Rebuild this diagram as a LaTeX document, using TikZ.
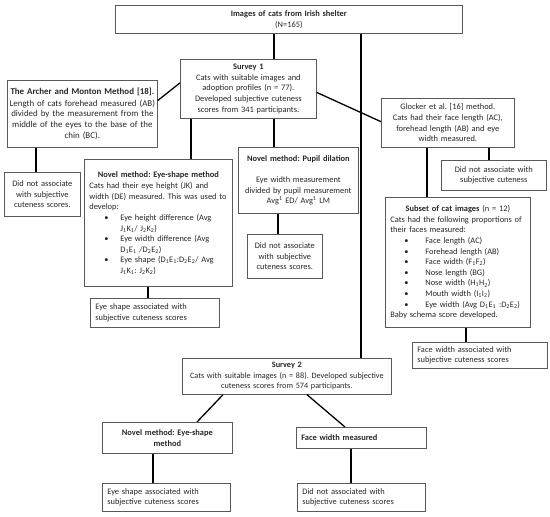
\documentclass[tikz,border=0pt]{standalone}
\usepackage{fontspec}
\setmainfont{Carlito}
\usepackage{tikz}
\frenchspacing

\newcommand{\sbs}[1]{\textsubscript{#1}}
\newcommand{\blt}[2]{\hspace*{#1}\makebox[#2][l]{\textbullet}}

\tikzset{
  box/.style={draw=black!65, line width=0.7pt, anchor=north west, inner xsep=2pt, inner ysep=2pt,
    align=center, font=\fontsize{8.4}{10.6}\selectfont, text=black!85},
  lbox/.style={box, inner xsep=5pt, align=left},
  link/.style={line width=1.3pt},
}

\begin{document}
\begin{tikzpicture}[x=1pt,y=-1pt]
\useasboundingbox (0,0) rectangle (550,517);

% top and survey 1
\node[box, minimum width=347pt, minimum height=28pt, text width=343pt] (top) at (115,5)
  {\textbf{Images of cats from Irish shelter}\\(N=165)};
\node[box, minimum width=136pt, minimum height=59pt, text width=132pt] (surv1) at (180,59)
  {\textbf{Survey 1}\\Cats with suitable images and\\adoption profiles (n = 77).\\Developed subjective cuteness\\scores from 341 participants.};

% archer and monton
\node[box, minimum width=150pt, minimum height=67pt, text width=146pt, font=\fontsize{8.9}{10.6}\selectfont] (archer) at (7,80)
  {\textbf{The Archer and Monton Method [18].}\\[1pt]Length of cats forehead measured (AB)\\divided by the measurement from the\\middle of the eyes to the base of the\\chin (BC).};
\node[box, minimum width=76pt, minimum height=44pt, text width=72pt] (archno) at (4,172)
  {Did not associate\\with subjective\\cuteness scores.};

% eye-shape
\node[lbox, minimum width=148pt, minimum height=127pt, text width=138pt] (eyes) at (84,159)
  {\makebox[\linewidth]{\textbf{Novel method: Eye-shape method}}\\[1pt]
   Cats had their eye height (JK) and\\width (DE) measured. This was used to\\develop:\\
   \blt{15pt}{16pt}Eye height difference (Avg\\\hspace*{31pt}J\sbs{1}K\sbs{1}/ J\sbs{2}K\sbs{2})\\
   \blt{15pt}{16pt}Eye width difference (Avg\\\hspace*{31pt}D\sbs{1}E\sbs{1} /D\sbs{2}E\sbs{2})\\
   \blt{15pt}{16pt}Eye shape (D\sbs{1}E\sbs{1}:D\sbs{2}E\sbs{2}/ Avg\\\hspace*{31pt}J\sbs{1}K\sbs{1}: J\sbs{2}K\sbs{2})\\[8pt]};
\node[lbox, minimum width=129pt, minimum height=29pt, text width=119pt] (eyesyes) at (90,298)
  {Eye shape associated with\\subjective cuteness scores};

% pupil dilation
\node[box, minimum width=120pt, minimum height=66pt, text width=116pt] (pupil) at (238,147)
  {\textbf{Novel method: Pupil dilation}\\[10.6pt]Eye width measurement\\divided by pupil measurement\\Avg\textsuperscript{1} ED/ Avg\textsuperscript{1} LM};
\node[box, minimum width=75pt, minimum height=44pt, text width=71pt] (pupilno) at (247,234)
  {Did not associate\\with subjective\\cuteness scores.};

% glocker
\node[box, minimum width=133pt, minimum height=49pt, text width=129pt] (glocker) at (381,98)
  {Glocker et al. [16] method.\\Cats had their face length (AC),\\forehead length (AB) and eye\\width measured.};
\node[box, minimum width=105pt, minimum height=30pt, text width=101pt] (glockno) at (441,160)
  {Did not associate with\\subjective cuteness};
\node[lbox, minimum width=145pt, minimum height=130pt, text width=135pt] (subset) at (385,197)
  {\makebox[\linewidth]{\textbf{Subset of cat images} (n = 12)}\\
   Cats had the following proportions of\\their faces measured:\\
   \blt{14pt}{21pt}Face length (AC)\\
   \blt{14pt}{21pt}Forehead length (AB)\\
   \blt{14pt}{21pt}Face width (F\sbs{1}F\sbs{2})\\
   \blt{14pt}{21pt}Nose length (BG)\\
   \blt{14pt}{21pt}Nose width (H\sbs{1}H\sbs{2})\\
   \blt{14pt}{21pt}Mouth width (I\sbs{1}I\sbs{2})\\
   \blt{14pt}{21pt}Eye width (Avg D\sbs{1}E\sbs{1} :D\sbs{2}E\sbs{2})\\
   Baby schema score developed.};
\node[lbox, minimum width=135pt, minimum height=26pt, text width=125pt] (subsetyes) at (412,342)
  {Face width associated with\\subjective cuteness scores};

% survey 2
\node[box, minimum width=209pt, minimum height=36pt, text width=205pt, font=\fontsize{8.2}{10.6}\selectfont] (surv2) at (182,358)
  {\textbf{Survey 2}\\Cats with suitable images (n = 88). Developed subjective\\cuteness scores from 574 participants.};
\node[box, minimum width=130pt, minimum height=31pt, text width=126pt] (eyes2) at (102,422)
  {\textbf{Novel method: Eye-shape}\\\textbf{method}};
\node[lbox, minimum width=128pt, minimum height=28pt, text width=118pt] (eyes2yes) at (102,483)
  {Eye shape associated with\\subjective cuteness scores};
\node[lbox, minimum width=130pt, minimum height=21pt, text width=120pt] (face) at (296,427)
  {\textbf{Face width measured}};
\node[lbox, minimum width=128pt, minimum height=28pt, text width=118pt] (faceno) at (297,483)
  {Did not associated with\\subjective cuteness scores};

% where the lines run
\coordinate (c1) at (274,0);
\coordinate (c2) at (361,0);
\coordinate (c3) at (191,0);
\coordinate (c4) at (36,0);
\coordinate (c5) at (148,0);
\coordinate (c6) at (278,0);
\coordinate (c7) at (489,0);
\coordinate (c8) at (427,0);
\coordinate (c9) at (466,0);
\coordinate (c10) at (153,0);
\coordinate (c11) at (351,0);
\coordinate (d1) at (223,0);
\coordinate (d2) at (197,0);
\coordinate (d3) at (307,0);
\coordinate (d4) at (345,0);

% links
\draw[link] (top.south -| c1) -- (surv1.north -| c1);
\draw[link] (top.south -| c2) -- (surv2.north -| c2);
\draw[link] (surv1.south -| c3) -- (eyes.north -| c3);
\draw[link] (surv1.south -| c1) -- (pupil.north -| c1);
\draw[link] (surv1.175) -- (archer.10);
\draw[link] (surv1.-3) -- (glocker.179);
\draw[link] (archer.south -| c4) -- (archno.north -| c4);
\draw[link] (eyes.south -| c5) -- (eyesyes.north -| c5);
\draw[link] (pupil.south -| c6) -- (pupilno.north -| c6);
\draw[link] (glocker.south -| c7) -- (glockno.north -| c7);
\draw[link] (glocker.south -| c8) -- (subset.north -| c8);
\draw[link] (subset.south -| c9) -- (subsetyes.north -| c9);
\draw[link] (surv2.south -| d1) -- (eyes2.north -| d2);
\draw[link] (surv2.south -| d3) -- (face.north -| d4);
\draw[link] (eyes2.south -| c10) -- (eyes2yes.north -| c10);
\draw[link] (face.south -| c11) -- (faceno.north -| c11);
\end{tikzpicture}
\end{document}
